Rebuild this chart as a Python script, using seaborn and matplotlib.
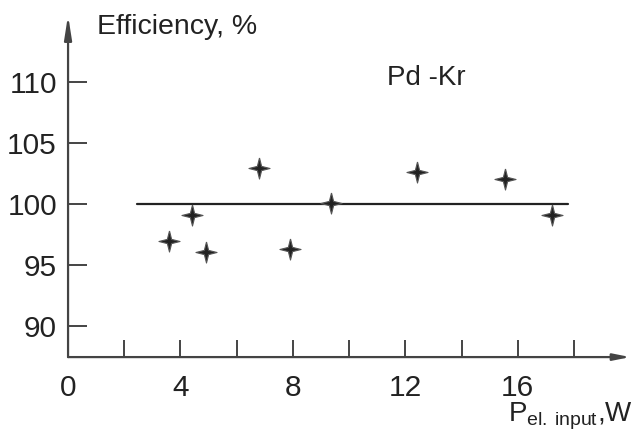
"""Pd-Kr efficiency vs electrical input power."""

import matplotlib
matplotlib.use("Agg")
import matplotlib.pyplot as plt
import seaborn as sns
import pandas as pd
from matplotlib.path import Path

# data
power_w = [3.6, 4.4, 4.9, 6.8, 7.9, 9.35, 12.4, 15.55, 17.2]
efficiency_pct = [97.0, 99.1, 96.1, 103.0, 96.3, 100.1, 102.6, 102.1, 99.1]
ref_line_x = [2.45, 17.8]
ref_line_y = [100, 100]
x_ticks = [0, 2, 4, 6, 8, 10, 12, 14, 16, 18]
x_labels = ["0", "", "4", "", "8", "", "12", "", "16", ""]
y_ticks = [90, 95, 100, 105, 110]

sns.set_style("white")
plt.rcParams["font.family"] = ["Liberation Sans", "DejaVu Sans"]
plt.rcParams["mathtext.fontset"] = "custom"
plt.rcParams["mathtext.rm"] = "Liberation Sans"

ink = "#222222"
axis_col = "#444444"

# four-pointed star marker
star = Path([(0, 1), (0.2, 0.2), (1, 0), (0.2, -0.2), (0, -1),
             (-0.2, -0.2), (-1, 0), (-0.2, 0.2), (0, 1)])

fig = plt.figure(figsize=(6.36, 4.36), dpi=100)
ax = fig.add_axes([0.107, 0.181, 0.884, 0.784])

df = pd.DataFrame({"P": power_w, "eff": efficiency_pct})
sns.lineplot(x=ref_line_x, y=ref_line_y, ax=ax, color=ink, lw=1.6)
sns.scatterplot(data=df, x="P", y="eff", ax=ax, marker=star, s=230,
                color=ink, edgecolor="#555555", linewidth=0.8, zorder=3)

ax.set_xlim(0, 20)
ax.set_ylim(87.45, 115.5)
for s in ax.spines.values():
    s.set_visible(False)

# axis arrows
arrow = dict(arrowstyle="-|>,head_length=1.4,head_width=0.22", color=axis_col,
             lw=1.6, shrinkA=0, shrinkB=0)
ax.annotate("", xy=(0, 1), xytext=(0, 0), xycoords="axes fraction",
            arrowprops=arrow, annotation_clip=False)
ax.annotate("", xy=(1, 0), xytext=(0, 0), xycoords="axes fraction",
            arrowprops=dict(arrow, arrowstyle="-|>,head_length=1.0,head_width=0.2"),
            annotation_clip=False)

ax.set_xticks(x_ticks)
ax.set_xticklabels(x_labels)
ax.set_yticks(y_ticks)
ax.tick_params(axis="x", direction="in", length=12.5, width=1.4, color=axis_col,
               pad=12, labelsize=21.5, labelcolor=ink, bottom=True)
ax.tick_params(axis="y", direction="in", length=14, width=1.4, color=axis_col,
               pad=8, labelsize=21.5, labelcolor=ink, left=True)
ax.set_xlabel("")
ax.set_ylabel("")

fig.text(0.152, 0.937, "Efficiency, %", ha="left", va="center",
         fontsize=20.5, color=ink)
fig.text(0.609, 0.822, "Pd -Kr", ha="left", va="center",
         fontsize=20, color=ink)
fig.text(0.996, 0.045, r"P$_{\mathrm{el.\,input}}$,W", ha="right",
         va="center", fontsize=20, color=ink)

fig.savefig("out.png", dpi=100)
plt.close(fig)
